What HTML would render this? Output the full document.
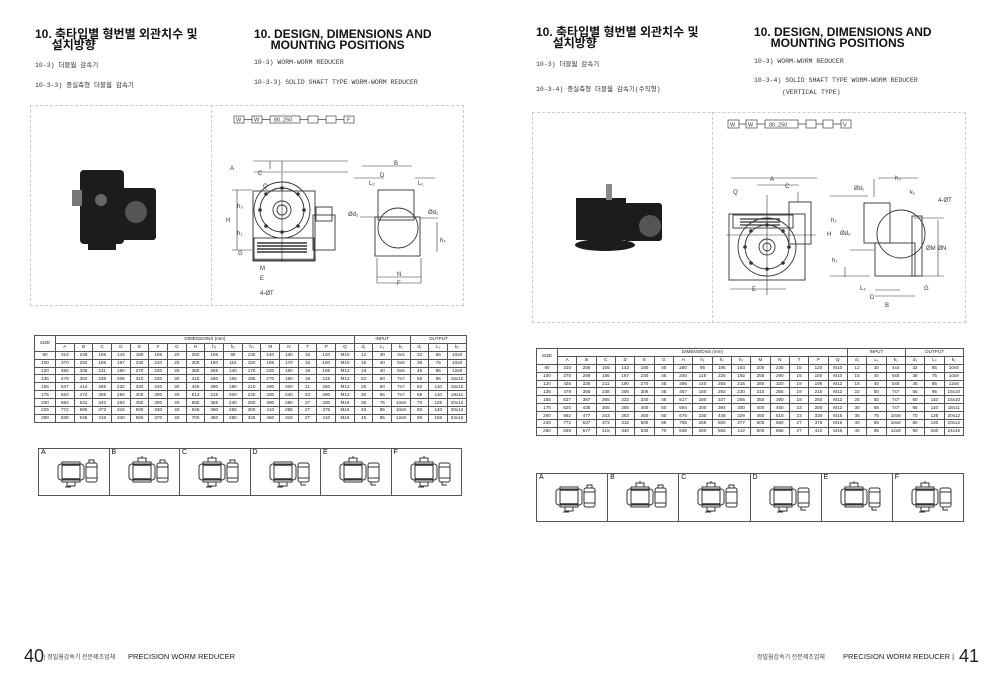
<!DOCTYPE html>
<html><head><meta charset="utf-8">
<style>
body{margin:0;width:1000px;height:673px;background:#fff;position:relative;overflow:hidden;font-family:"Liberation Sans","Noto Sans CJK KR",sans-serif;color:#111}
.a{position:absolute;white-space:nowrap}
.h{font-weight:bold;font-size:12px;line-height:11px}
.s{font-size:6.5px;color:#333;font-family:"Liberation Mono","Noto Sans CJK KR",monospace}
.box{position:absolute;border:1px dashed #ccc}
table{position:absolute;border-collapse:collapse;font-size:4.6px;color:#222;table-layout:fixed}
td{border:0.6px solid #555;text-align:center;padding:0;height:6.9px;line-height:6px;overflow:hidden}
.strip{position:absolute;display:flex;border:1px solid #555}
.strip div{flex:1;border-right:1px solid #555;position:relative;font-size:7px}
.strip div:last-child{border-right:none}
</style></head><body>
<div class="a h" style="left:35px;top:29px">10. 축타입별 형번별 외관치수 및<br>&nbsp;&nbsp;&nbsp;&nbsp;&nbsp;설치방향</div>
<div class="a h" style="left:254px;top:29px">10. DESIGN, DIMENSIONS AND<br>&nbsp;&nbsp;&nbsp;&nbsp;&nbsp;MOUNTING POSITIONS</div>
<div class="a s" style="left:35px;top:59px">10-3) 더블웜 감속기</div>
<div class="a s" style="left:35px;top:79px">10-3-3) 중실축형 더블웜 감속기</div>
<div class="a s" style="left:254px;top:59px">10-3) WORM-WORM REDUCER</div>
<div class="a s" style="left:254px;top:79px">10-3-3) SOLID SHAFT TYPE WORM-WORM REDUCER</div>

<div class="a h" style="left:536px;top:27px">10. 축타입별 형번별 외관치수 및<br>&nbsp;&nbsp;&nbsp;&nbsp;&nbsp;설치방향</div>
<div class="a h" style="left:754px;top:27px">10. DESIGN, DIMENSIONS AND<br>&nbsp;&nbsp;&nbsp;&nbsp;&nbsp;MOUNTING POSITIONS</div>
<div class="a s" style="left:536px;top:58px">10-3) 더블웜 감속기</div>
<div class="a s" style="left:536px;top:83px">10-3-4) 중실축형 더블웜 감속기(수직형)</div>
<div class="a s" style="left:754px;top:58px">10-3) WORM-WORM REDUCER</div>
<div class="a s" style="left:754px;top:77px">10-3-4) SOLID SHAFT TYPE WORM-WORM REDUCER</div>
<div class="a s" style="left:782px;top:89px">(VERTICAL TYPE)</div>

<div class="box" style="left:30px;top:105px;width:432px;height:199px"></div>
<div class="box" style="left:211px;top:105px;width:0;height:199px;border-left:none"></div>
<div class="box" style="left:532px;top:112px;width:432px;height:209px"></div>
<div class="box" style="left:712px;top:112px;width:0;height:209px;border-left:none"></div>

<svg class="a" style="left:0;top:0" width="1000" height="673" viewBox="0 0 1000 673" font-family="Liberation Sans" font-size="6">
<g stroke="#444" fill="none" stroke-width="0.7">
<rect x="234" y="116" width="10" height="7"/><rect x="252" y="116" width="10" height="7"/><rect x="270" y="116" width="30" height="7"/><rect x="308" y="116" width="10" height="7"/><rect x="326" y="116" width="10" height="7"/><rect x="344" y="116" width="10" height="7"/>
<path d="M244 119.5h8M262 119.5h8M300 119.5h8M318 119.5h8M336 119.5h8"/>
<rect x="728" y="120" width="11" height="8"/><rect x="746" y="120" width="11" height="8"/><rect x="765" y="120" width="33" height="8"/><rect x="806" y="120" width="10" height="8"/><rect x="823" y="120" width="10" height="8"/><rect x="841" y="120" width="10" height="8"/>
<path d="M739 124h7M757 124h8M798 124h8M816 124h7M833 124h8"/>
</g>
<g fill="#333" font-size="5.5">
<text x="236" y="121.5">W</text><text x="254" y="121.5">W</text><text x="274" y="121.5">80..250</text><text x="347" y="121.5">F</text>
<text x="730" y="126.5">W</text><text x="748" y="126.5">W</text><text x="769" y="126.5">80..250</text><text x="843" y="126.5">V</text>
</g>
<g stroke="#333" fill="none" stroke-width="0.9">
<rect x="253" y="191" width="62" height="70"/><circle cx="282" cy="210" r="28"/><circle cx="282" cy="210" r="22"/><circle cx="282" cy="210" r="9"/><circle cx="282" cy="210" r="5"/>
<rect x="254" y="238" width="60" height="22"/><path d="M257 243h50M257 246h50M257 249h50M257 252h50" stroke-width="1.4"/>
<rect x="313" y="215" width="22" height="35"/><rect x="316" y="207" width="16" height="14"/>
<path d="M254 259h62M254 172h94M282 172v90M282 171v-10M253 161h95M270 169v-8M237 190v60M232 190h20M232 250h20" stroke-width="0.6"/>
<rect x="378" y="190" width="36" height="30"/><circle cx="398" cy="228" r="20"/><rect x="375" y="217" width="45" height="39"/><path d="M360 217h18M420 218h18M362 166h50M354 178h30M415 178h20M377 258v25h44v-25M377 277h44M437 222v30" stroke-width="0.6"/>
<rect x="729" y="214" width="76" height="66"/><circle cx="767" cy="247" r="29"/><circle cx="767" cy="247" r="22"/><circle cx="767" cy="247" r="8"/><circle cx="767" cy="247" r="4"/>
<rect x="733" y="215" width="60" height="13"/><path d="M740 219h40M740 222h40M740 225h40" stroke-width="1.2"/><rect x="789" y="202" width="22" height="42"/><path d="M798 202v-10M731 178h86M757 185h42M730 289h56M767 195v100M726 235h90" stroke-width="0.6"/>
<rect x="864" y="203" width="26" height="40"/><circle cx="901" cy="234" r="24"/><rect x="875" y="243" width="40" height="33"/><rect x="912" y="216" width="10" height="60"/><path d="M874 197v-18M878 178h40M830 196h38M830 276h40M914 218h30M914 276h30M938 220v56M850 250h24M875 296h40M875 290h25M845 267v10" stroke-width="0.6"/>
</g>
<g fill="#333">
<circle cx="282" cy="188" r="1.8"/><circle cx="282" cy="232" r="1.8"/><circle cx="260" cy="210" r="1.8"/><circle cx="304" cy="210" r="1.8"/><circle cx="266" cy="194" r="1.8"/><circle cx="298" cy="226" r="1.8"/><circle cx="266" cy="226" r="1.8"/><circle cx="298" cy="194" r="1.8"/>
<circle cx="767" cy="225" r="1.8"/><circle cx="767" cy="269" r="1.8"/><circle cx="745" cy="247" r="1.8"/><circle cx="789" cy="247" r="1.8"/><circle cx="751" cy="231" r="1.8"/><circle cx="783" cy="263" r="1.8"/><circle cx="751" cy="263" r="1.8"/><circle cx="783" cy="231" r="1.8"/>
</g>
<g fill="#333" font-size="6">
<text x="230" y="170">A</text><text x="258" y="175">C</text><text x="263" y="188">Q</text><text x="226" y="222">H</text><text x="260" y="270">M</text><text x="260" y="280">E</text><text x="260" y="295">4-ØT</text><text x="237" y="208">h₃</text><text x="237" y="235">h₁</text><text x="238" y="255">G</text>
<text x="394" y="165">B</text><text x="380" y="177">D</text><text x="369" y="185">L₂</text><text x="418" y="185">L₁</text><text x="348" y="216">Ød₂</text><text x="428" y="214">Ød₁</text><text x="397" y="276">N</text><text x="397" y="285">F</text><text x="440" y="242">h₂</text>
<text x="770" y="181">A</text><text x="785" y="188">C</text><text x="733" y="194">Q</text><text x="752" y="291">E</text><text x="827" y="236">H</text><text x="831" y="222">h₂</text><text x="832" y="262">h₁</text><text x="854" y="190">Ød₁</text><text x="840" y="235">Ød₂</text><text x="895" y="180">h₃</text><text x="910" y="194">k₁</text><text x="938" y="202">4-ØT</text><text x="926" y="250">ØM ØN</text><text x="860" y="290">L₂</text><text x="870" y="299">D</text><text x="885" y="307">B</text><text x="924" y="290">G</text>
</g>
<g fill="#1c1c1c">
<rect x="80" y="170" width="44" height="74" rx="4"/><rect x="114" y="188" width="42" height="52" rx="3"/><rect x="88" y="244" width="28" height="6"/><rect x="72" y="190" width="10" height="16" fill="#777"/><circle cx="136" cy="212" r="11" fill="#555"/><circle cx="101" cy="200" r="6" fill="#666"/>
<path d="M576 198h50v42h-50z"/><rect x="624" y="203" width="38" height="38" rx="3"/><ellipse cx="605" cy="245" rx="30" ry="6"/><rect x="606" y="184" width="6" height="16" fill="#888"/><circle cx="650" cy="226" r="11" fill="#555"/>
</g>
<text x="24" y="662" font-size="18" fill="#222">40</text><text x="44" y="659" font-size="6" fill="#444" font-family="Liberation Sans,Noto Sans CJK KR">|  정밀웜감속기 전문제조업체</text><text x="128" y="659" font-size="7.5" fill="#222">PRECISION WORM REDUCER</text>
<text x="757" y="659" font-size="6" fill="#444" font-family="Liberation Sans,Noto Sans CJK KR">정밀웜감속기 전문제조업체</text><text x="843" y="659" font-size="7.5" fill="#222">PRECISION WORM REDUCER  |</text><text x="959" y="662" font-size="18" fill="#222">41</text>
</svg>

<div class="strip" style="left:38px;top:448px;width:422px;height:46px"><div>&nbsp;A</div><div>&nbsp;B</div><div>&nbsp;C</div><div>&nbsp;D</div><div>&nbsp;E</div><div>&nbsp;F</div></div>
<div class="strip" style="left:536px;top:473px;width:426px;height:47px"><div>&nbsp;A</div><div>&nbsp;B</div><div>&nbsp;C</div><div>&nbsp;D</div><div>&nbsp;E</div><div>&nbsp;F</div></div>

<table id="t1" style="left:34px;top:335px;width:433px"></table>
<table id="t2" style="left:536px;top:348px;width:428px"></table>
<script>
function build(id,cols,rows){
 var t=document.getElementById(id),n=cols.length;
 var h='<tr><td rowspan=2 style="width:20px">SIZE</td><td colspan='+n+'>DIMENSIONS (mm)</td><td colspan=3>INPUT</td><td colspan=3>OUTPUT</td></tr><tr>';
 cols.concat(['d₁','L₁','k₁','d₂','L₂','k₂']).forEach(function(c){h+='<td'+(c[0]=='k'?' style="width:22px"':'')+'>'+c+'</td>'});
 h+='</tr>';rows.forEach(function(r){h+='<tr>'+r.split(' ').map(function(v){return '<td>'+v+'</td>'}).join('')+'</tr>'});
 t.innerHTML=h;
}
build('t1','A B C D E F G H h₁ h₂ h₃ M N T P Q'.split(' '),[
'80 310 248 155 143 180 155 20 250 155 95 135 140 130 15 120 M10 12 30 4x4 32 65 10x8',
'100 370 292 185 167 230 210 25 305 180 115 150 185 170 15 160 M10 15 40 5x5 38 75 10x8',
'120 455 335 211 190 270 220 25 365 255 140 175 230 160 19 195 M12 18 40 5x5 45 85 12x8',
'135 479 362 238 206 310 230 30 415 250 165 195 270 190 19 215 M12 22 50 7x7 55 95 15x10',
'155 537 414 265 232 340 240 30 445 280 180 210 290 200 21 250 M12 25 50 7x7 60 110 15x10',
'175 620 474 305 250 400 300 40 513 315 200 230 330 240 23 280 M12 30 65 7x7 65 110 18x11',
'200 692 531 343 283 450 300 40 585 355 230 280 390 280 27 330 M16 35 75 10x8 70 125 20x12',
'225 772 590 373 315 500 330 40 645 390 255 300 410 295 27 375 M16 40 85 10x8 80 140 20x12',
'250 839 645 415 340 550 370 40 700 450 280 345 460 315 27 410 M16 45 85 12x8 90 155 24x16']);
build('t2','A B C D E G H h₁ h₂ h₃ M N T P Q'.split(' '),[
'80 310 256 155 143 180 40 280 95 185 183 205 235 15 120 M10 12 30 4x4 32 65 10x8',
'100 370 289 185 167 230 45 340 115 225 192 255 290 15 160 M10 15 40 5x5 38 75 10x8',
'120 426 335 211 190 270 45 395 140 255 215 280 320 19 195 M12 18 40 5x5 45 85 12x8',
'135 479 355 238 206 306 45 457 160 292 230 315 355 19 215 M12 22 50 7x7 55 95 15x10',
'155 537 387 265 232 340 45 517 180 337 255 350 390 19 250 M12 25 50 7x7 60 110 15x10',
'175 620 435 305 256 400 50 594 200 394 300 400 450 23 280 M12 30 65 7x7 65 110 18x11',
'200 692 477 343 283 450 50 678 230 448 329 460 510 23 330 M16 35 75 10x8 70 125 20x12',
'225 772 537 373 315 500 65 755 255 500 377 505 560 27 375 M16 40 85 10x8 80 140 20x12',
'250 839 577 415 340 530 70 835 280 555 412 600 665 27 410 M16 45 85 12x8 90 150 24x16']);
var tops=[[0,1],[1,0],[1,1],[0,1],[1,0],[1,1]];
document.querySelectorAll('.strip').forEach(function(s){
 s.querySelectorAll('div').forEach(function(d,i){
  var up=i==1||i==2||i==4||i==5, dn=i==0||i==2||i==3||i==5;
  var g='<rect x="3" y="9" width="26" height="16" rx="3"/><rect x="7" y="7" width="18" height="20"/><path d="M7 10h18M7 24h18" stroke-width="1.6"/><rect x="31" y="8" width="11" height="19" rx="2"/><path d="M31 12h11M31 23h11"/>';
  if(up)g+='<path d="M12 7v-4h8v4M16 3v-2"/>';
  if(dn)g+='<path d="M12 27v4h8v-4M10 32h6"/>';
  g+=(i<3)?'<path d="M34 8v-3h5v3"/>':'<path d="M34 27v3h5"/>';
  d.innerHTML+='<svg style="position:absolute;left:16px;top:6px" width="50" height="36"><g fill="none" stroke="#333" stroke-width="1">'+g+'</g></svg>';
 });
});
</script>
</body></html>
